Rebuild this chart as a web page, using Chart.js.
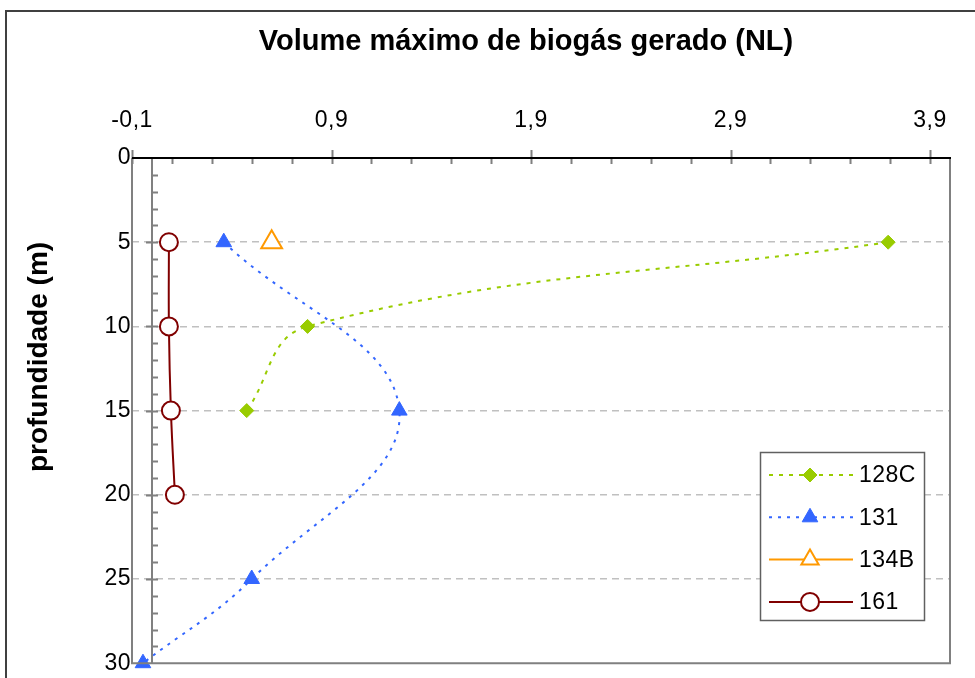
<!DOCTYPE html>
<html>
<head>
<meta charset="utf-8">
<script src="https://cdn.jsdelivr.net/npm/chart.js@4"></script>
<style>
  body { margin: 0; background: #fff; }
  #wrap { width: 975px; height: 678px; }
</style>
</head>
<body>
<div id="wrap"><canvas id="myChart" width="975" height="678"></canvas></div>
<script>
// data
const seriesNames = ["128C", "131", "134B", "161"];
const depth128C = [5, 10, 15];
const volume128C = [3.69, 0.78, 0.475];
const depth131 = [5, 15, 25, 30];
const volume131 = [0.36, 1.24, 0.5, -0.045];
const depth134B = [5];
const volume134B = [0.6];
const depth161 = [5, 10, 15, 20];
const volume161 = [0.085, 0.085, 0.095, 0.115];

const xTicks = [-0.1, 0.9, 1.9, 2.9, 3.9];
const xTickLabels = ["-0,1", "0,9", "1,9", "2,9", "3,9"];
const yTicks = [0, 5, 10, 15, 20, 25, 30];

const FONT = '"Liberation Sans", Arial, sans-serif';
const toPoints = (xs, ys) => xs.map((x, i) => ({ x: x, y: ys[i] }));

// frame, axis lines, tick marks, titles and legend
const decor = {
    id: 'decor',
    beforeDraw(chart) {
        const c = chart.ctx;
        c.save();
        c.fillStyle = '#fff';
        c.fillRect(0, 0, chart.width, chart.height);
        c.strokeStyle = '#404040';
        c.lineWidth = 2;
        c.strokeRect(6, 11, 1200, 1200);
        c.restore();
        // slightly wider spacing like the original tick labels
        c.letterSpacing = '0.5px';
    },
    afterDatasetsDraw(chart) {
        const c = chart.ctx;
        const a = chart.chartArea;
        const xs = chart.scales.x, ys = chart.scales.y;
        c.save();
        // plot border
        c.strokeStyle = '#808080';
        c.lineWidth = 2;
        c.beginPath();
        c.moveTo(a.left, a.top); c.lineTo(a.left, a.bottom);
        c.lineTo(a.right, a.bottom); c.lineTo(a.right, a.top);
        c.stroke();
        // vertical axis at x = 0
        const x0 = Math.round(xs.getPixelForValue(0));
        c.beginPath();
        c.moveTo(x0, a.top); c.lineTo(x0, a.bottom);
        for (let v = 1; v < 30; v++) {
            const py = Math.round(ys.getPixelForValue(v)) + 0.5;
            const len = v % 5 === 0 ? 6 : 0;
            c.moveTo(x0 - len, py); c.lineTo(x0 + 6, py);
        }
        c.stroke();
        // top axis line and ticks
        c.beginPath();
        for (const v of xTicks) {
            const px = Math.round(xs.getPixelForValue(v)) + 0.5;
            c.moveTo(px, a.top - 8); c.lineTo(px, a.top + 6);
        }
        for (let k = 1; k < 21; k++) {
            const v = -0.1 + k * 0.2;
            if (k % 5 === 0) continue;
            const px = Math.round(xs.getPixelForValue(v)) + 0.5;
            c.moveTo(px, a.top); c.lineTo(px, a.top + 6);
        }
        c.stroke();
        c.strokeStyle = '#000';
        c.beginPath();
        c.moveTo(a.left, a.top); c.lineTo(a.right + 1, a.top);
        c.stroke();

        // titles
        c.letterSpacing = '0px';
        c.fillStyle = '#000';
        c.font = 'bold 29px ' + FONT;
        c.textAlign = 'center';
        c.textBaseline = 'alphabetic';
        c.fillText('Volume máximo de biogás gerado (NL)', 526, 50);
        c.translate(39, 357);
        c.rotate(-Math.PI / 2);
        c.font = 'bold 28px ' + FONT;
        c.textBaseline = 'middle';
        c.fillText('profundidade (m)', 0, 0);
        c.setTransform(1, 0, 0, 1, 0, 0);

        // legend
        const bx = 760, by = 452, bw = 164, bh = 168;
        c.fillStyle = '#fff';
        c.fillRect(bx, by, bw, bh);
        c.strokeStyle = '#606060';
        c.lineWidth = 1.5;
        c.strokeRect(bx + 0.5, by + 0.5, bw, bh);
        chart.data.datasets.forEach((ds, i) => {
            const ly = 475 + i * 42.3;
            c.strokeStyle = ds.borderColor;
            c.lineWidth = 2;
            c.setLineDash(ds.borderDash || []);
            c.beginPath();
            c.moveTo(769, ly); c.lineTo(853, ly);
            c.stroke();
            c.setLineDash([]);
            const r = ds.pointStyle === 'triangle' ? Math.min(ds.pointRadius, 10) : ds.pointRadius;
            drawMarker(c, ds.pointStyle, 810, ly, r, ds.pointBackgroundColor, ds.pointBorderColor, ds.pointBorderWidth);
            c.fillStyle = '#000';
            c.font = '23px ' + FONT;
            c.letterSpacing = '0.5px';
            c.textAlign = 'left';
            c.textBaseline = 'middle';
            c.fillText(ds.label, 859, ly + 1);
            c.letterSpacing = '0px';
        });
        c.restore();
    }
};

function drawMarker(c, style, x, y, r, fill, stroke, bw) {
    c.beginPath();
    if (style === 'circle') {
        c.arc(x, y, r, 0, Math.PI * 2);
    } else if (style === 'triangle') {
        const s = r * 1.5 / Math.sqrt(3) * 2;
        c.moveTo(x, y - r);
        c.lineTo(x + s / 2, y + r / 2);
        c.lineTo(x - s / 2, y + r / 2);
        c.closePath();
    } else {
        c.moveTo(x, y - r); c.lineTo(x + r, y); c.lineTo(x, y + r); c.lineTo(x - r, y);
        c.closePath();
    }
    c.fillStyle = fill;
    c.fill();
    c.lineWidth = bw;
    c.strokeStyle = stroke;
    c.stroke();
}

const ctx = document.getElementById('myChart');
const chart = new Chart(ctx, {
    type: 'scatter',
    data: {
        datasets: [
            {
                label: seriesNames[0],
                data: toPoints(volume128C, depth128C),
                showLine: true, tension: 0.4, clip: false,
                borderColor: '#99CC00', borderWidth: 2, borderDash: [4, 6],
                pointStyle: 'rectRot', pointRadius: 7,
                pointBackgroundColor: '#99CC00', pointBorderColor: '#99CC00', pointBorderWidth: 1
            },
            {
                label: seriesNames[1],
                data: toPoints(volume131, depth131),
                showLine: true, tension: 0.4, clip: false,
                borderColor: '#3366FF', borderWidth: 2, borderDash: [3, 6],
                pointStyle: 'triangle', pointRadius: 9,
                pointBackgroundColor: '#3366FF', pointBorderColor: '#3366FF', pointBorderWidth: 1
            },
            {
                label: seriesNames[2],
                data: toPoints(volume134B, depth134B),
                showLine: true, tension: 0.4, clip: false,
                borderColor: '#FF9900', borderWidth: 2,
                pointStyle: 'triangle', pointRadius: 12,
                pointBackgroundColor: '#fff', pointBorderColor: '#FF9900', pointBorderWidth: 2
            },
            {
                label: seriesNames[3],
                data: toPoints(volume161, depth161),
                showLine: true, tension: 0.4, clip: false,
                borderColor: '#800000', borderWidth: 2,
                pointStyle: 'circle', pointRadius: 9,
                pointBackgroundColor: '#fff', pointBorderColor: '#800000', pointBorderWidth: 2
            }
        ]
    },
    options: {
        responsive: false,
        animation: false,
        layout: { padding: { left: 0, right: 25, top: 0, bottom: 14 } },
        plugins: {
            legend: { display: false },
            title: { display: false },
            tooltip: { enabled: false }
        },
        scales: {
            x: {
                type: 'linear',
                position: 'top',
                min: -0.1,
                max: 4.0,
                afterFit: s => { s.height = 158; },
                afterBuildTicks: s => { s.ticks = xTicks.map(v => ({ value: v })); },
                border: { display: false },
                grid: { display: false, drawTicks: false },
                ticks: {
                    padding: 24,
                    color: '#000',
                    font: { family: FONT, size: 23 },
                    callback: (v, i) => xTickLabels[i]
                }
            },
            y: {
                type: 'linear',
                reverse: true,
                min: 0,
                max: 30,
                afterFit: s => { s.width = 132; },
                afterBuildTicks: s => { s.ticks = yTicks.map(v => ({ value: v })); },
                border: { display: false, dash: [7, 5] },
                grid: {
                    drawTicks: false,
                    color: c => (c.tick && (c.tick.value === 0 || c.tick.value === 30)) ? 'rgba(0,0,0,0)' : '#c0c0c0',
                    lineWidth: 1.5
                },
                ticks: {
                    padding: 1,
                    color: '#000',
                    font: { family: FONT, size: 23 }
                }
            }
        }
    },
    plugins: [decor]
});
</script>
</body>
</html>
